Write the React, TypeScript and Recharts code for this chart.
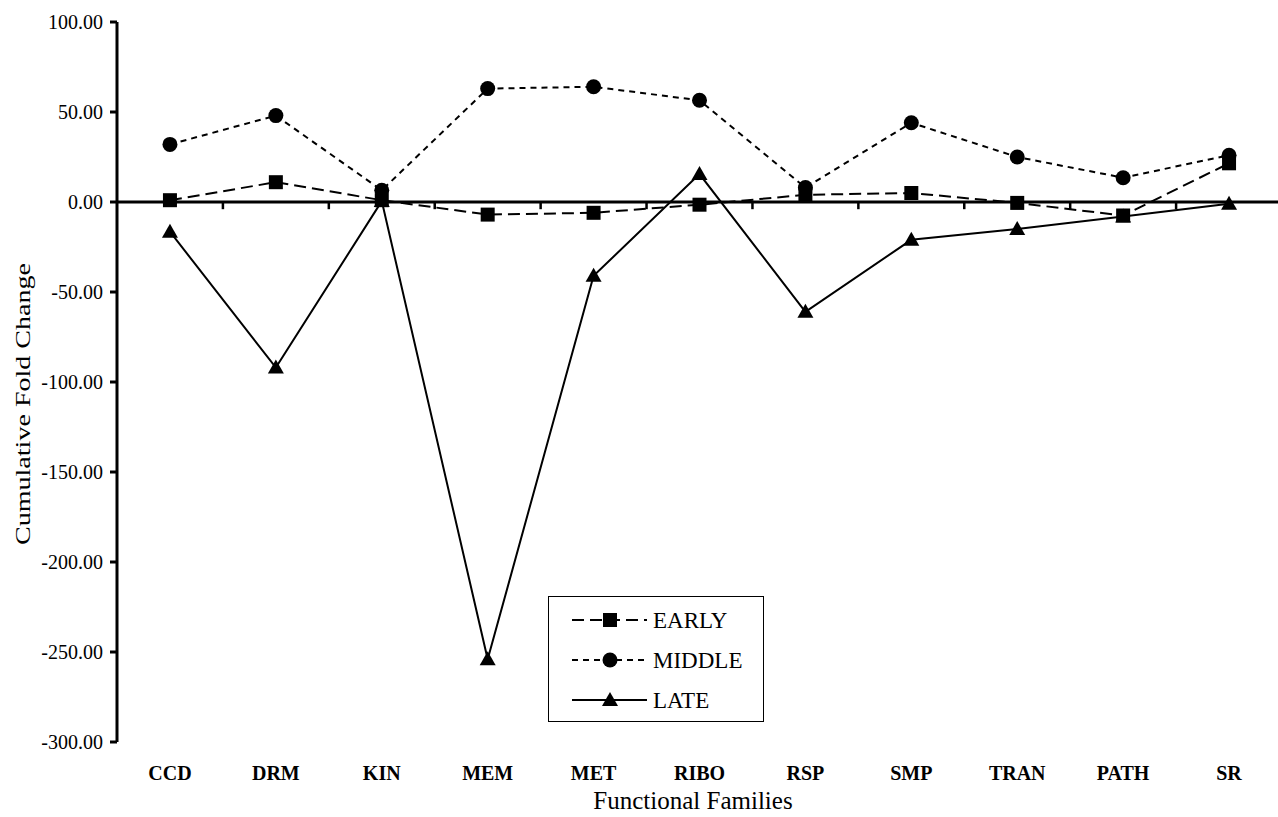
import React from 'react'
import { LineChart, Line, XAxis, YAxis, ReferenceLine, Legend } from 'recharts'

const FONT = 'Liberation Serif, Times New Roman, Times, serif'

const categories = ['CCD', 'DRM', 'KIN', 'MEM', 'MET', 'RIBO', 'RSP', 'SMP', 'TRAN', 'PATH', 'SR']
const early = [1, 11, 1, -7, -6, -1.5, 4, 5, -0.5, -7.5, 21.5]
const middle = [32, 48, 6.5, 63, 64, 56.5, 8, 44, 25, 13.5, 26]
const late = [-16.5, -92, 0.5, -254, -41, 15.5, -61, -21, -15, -8, -1]
const yTicks = [-300, -250, -200, -150, -100, -50, 0, 50, 100]

const data = categories.map((name, i) => ({ idx: i, name, early: early[i], middle: middle[i], late: late[i] }))
const xTicks = categories.map((_, i) => i)
const boundaries = categories.slice(1).map((_, i) => i + 0.5)

type Shape = 'square' | 'circle' | 'triangle'

const series: Array<{ key: string; name: string; dash?: string; shape: Shape }> = [
  { key: 'early', name: 'EARLY', dash: '12 6', shape: 'square' },
  { key: 'middle', name: 'MIDDLE', dash: '6 5', shape: 'circle' },
  { key: 'late', name: 'LATE', shape: 'triangle' },
]

function Marker({ cx, cy, shape }: { cx: number; cy: number; shape: Shape }) {
  if (cx == null || cy == null) return null
  if (shape === 'square') return <rect x={cx - 7} y={cy - 7} width={14} height={14} fill="#000" />
  if (shape === 'circle') return <circle cx={cx} cy={cy} r={7.5} fill="#000" />
  return <polygon points={`${cx},${cy - 8} ${cx - 8},${cy + 6} ${cx + 8},${cy + 6}`} fill="#000" />
}

function LegendBox() {
  return (
    <div style={{ width: 216, height: 126, border: '1.5px solid #000', boxSizing: 'border-box', background: '#fff' }}>
      <svg width={213} height={123}>
        {series.map((s, i) => {
          const y = 23 + i * 40
          return (
            <g key={s.key}>
              <line x1={23} x2={98} y1={y} y2={y} stroke="#000" strokeWidth={2} strokeDasharray={s.dash} />
              <Marker cx={61} cy={y} shape={s.shape} />
              <text x={104} y={y + 8} style={{ fontFamily: FONT }} fontSize={23} fill="#000">
                {s.name}
              </text>
            </g>
          )
        })}
      </svg>
    </div>
  )
}

export default function App() {
  return (
    <div
      style={{
        position: 'absolute',
        left: 0,
        top: 0,
        width: 1278,
        height: 817,
        overflow: 'hidden',
        background: '#fff',
        fontFamily: FONT,
      }}
    >
      <LineChart width={1290} height={817} data={data} margin={{ top: 22, right: 8, bottom: 0, left: 0 }} style={{ fontFamily: FONT }}>
        <XAxis
          dataKey="idx"
          type="number"
          domain={[-0.5, 10.5]}
          ticks={xTicks}
          tickFormatter={(v) => categories[v]}
          axisLine={false}
          tickLine={false}
          tickSize={0}
          tickMargin={24}
          height={75}
          interval={0}
          tick={{ fontFamily: FONT, fontSize: 20, fontWeight: 'bold', fill: '#000' }}
          label={() => (
            <text x={693} y={809} textAnchor="middle" style={{ fontFamily: FONT }} fontSize={25} fill="#000">
              Functional Families
            </text>
          )}
        />
        <YAxis
          domain={[-300, 100]}
          ticks={yTicks}
          tickFormatter={(v) => v.toFixed(2)}
          width={117}
          axisLine={{ stroke: '#000', strokeWidth: 3 }}
          tickLine={{ stroke: '#000', strokeWidth: 3 }}
          tickSize={7}
          tickMargin={7}
          tick={{ fontFamily: FONT, fontSize: 20, fill: '#000' }}
          label={() => (
            <text
              transform="translate(30,404) rotate(-90)"
              textAnchor="middle"
              style={{ fontFamily: FONT }}
              fontSize={22}
              fill="#000"
              textLength={282}
              lengthAdjust="spacingAndGlyphs"
            >
              Cumulative Fold Change
            </text>
          )}
        />
        <ReferenceLine y={0} stroke="#000" strokeWidth={3} />
        {boundaries.map((b) => (
          <ReferenceLine
            key={b}
            segment={[{ x: b, y: 0 }, { x: b, y: -4 }]}
            stroke="#000"
            strokeWidth={2.5}
          />
        ))}
        {series.map((s) => (
          <Line
            key={s.key}
            type="linear"
            dataKey={s.key}
            name={s.name}
            stroke="#000"
            strokeWidth={2}
            strokeDasharray={s.dash}
            isAnimationActive={false}
            activeDot={false}
            dot={(p: any) => <Marker key={`${s.key}-${p.index}`} cx={p.cx} cy={p.cy} shape={s.shape} />}
          />
        ))}
        <Legend
          layout="horizontal"
          verticalAlign="middle"
          align="center"
          content={() => <LegendBox />}
          wrapperStyle={{ left: 548, top: 596, width: 216, height: 126 }}
        />
      </LineChart>
    </div>
  )
}
